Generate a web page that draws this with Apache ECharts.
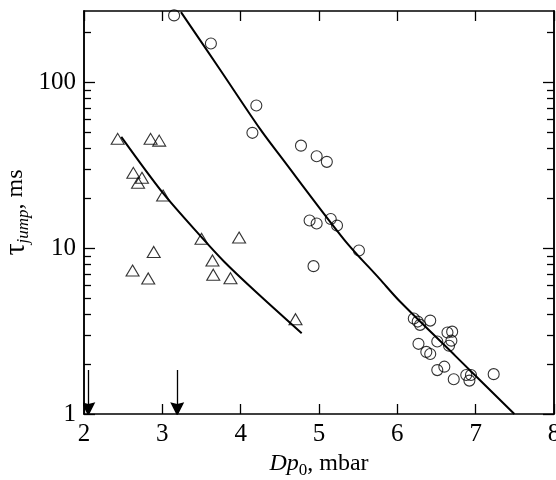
<!DOCTYPE html>
<html><head><meta charset="utf-8">
<script src="https://cdn.jsdelivr.net/npm/echarts@6/dist/echarts.min.js"></script>
<style>html,body{margin:0;padding:0;background:#fff}#c{width:556px;height:480px}</style>
</head><body><div id="c"></div>
<script>
var circlesX = [3.15,3.62,4.20,4.15,4.77,4.97,5.10,4.88,4.97,5.15,5.23,5.51,4.93,6.21,6.26,6.29,6.42,6.64,6.70,6.69,6.66,6.51,6.27,6.37,6.42,6.51,6.60,6.72,6.88,6.94,6.92,7.23];
var circlesY = [254,172,72.6,49.7,41.6,35.9,33.2,14.7,14.1,15.0,13.7,9.7,7.8,3.77,3.61,3.45,3.66,3.10,3.14,2.77,2.58,2.74,2.65,2.37,2.30,1.84,1.93,1.62,1.72,1.72,1.59,1.74];
var trianglesX = [2.43,2.85,2.96,2.63,2.74,2.69,3.01,3.50,2.89,3.64,2.62,2.82,3.65,3.98,3.87,4.70];
var trianglesY = [45.7,45.7,44.6,28.5,26.6,24.8,20.8,11.4,9.5,8.44,7.34,6.57,6.92,11.6,6.6,3.73];
var fitCircX = [3.238,3.74,4.247,4.502,5.323,5.777,6.034,6.75,7.494];
var fitCircY = [266,119,52.5,36.2,11.25,6.51,4.77,2.22,1.0];
var fitTriX = [2.476,3.012,3.497,3.787,4.183,4.779];
var fitTriY = [47.0,21.4,11.7,8.32,5.52,3.07];
var arrowX = [2.055,3.19];
var arrowTop = 1.84, arrowTip = 1.07;
var xTicks = [2,3,4,5,6,7,8];
var yMajor = [1,10,100];
var yMinor = [2,3,4,5,6,7,8,9,20,30,40,50,60,70,80,90,200];

function zip(a,b){return a.map(function(v,i){return [v,b[i]];});}
var FONT = 'Liberation Serif';
var lineStyleAxis = {color:'#000', width:1.5};
function yAx(pos, ticks, len, labels, extra){
  var o = {type:'log', logBase:10, min:1, max:270, position:pos,
    axisLine:{show:true, onZero:false, lineStyle:lineStyleAxis},
    axisTick:{show:true, inside:true, length:len, customValues:ticks, lineStyle:{color:'#000', width:1.3}},
    axisLabel:{show:labels, customValues:yMajor, fontFamily:FONT, fontSize:25, color:'#000', margin:8},
    splitLine:{show:false}, minorTick:{show:false}};
  for (var k in extra) o[k]=extra[k];
  return o;
}
var chart = echarts.init(document.getElementById('c'));
chart.setOption({
  animation:false,
  backgroundColor:'#fff',
  grid:{left:84, right:2, top:11, bottom:66, outerBoundsMode:'none', containLabel:false},
  xAxis:[
    {type:'value', min:2, max:8, interval:1, position:'bottom',
     axisLine:{onZero:false, lineStyle:lineStyleAxis},
     axisTick:{inside:true, length:10, lineStyle:{color:'#000', width:1.3}},
     axisLabel:{fontFamily:FONT, fontSize:25, color:'#000', margin:8},
     splitLine:{show:false},
     name:'{i|Dp}{s|0}{n|, mbar}', nameLocation:'middle', nameGap:32,
     nameTextStyle:{rich:{
       i:{fontFamily:FONT, fontSize:24, fontStyle:'italic', color:'#000', lineHeight:30, verticalAlign:'middle'},
       s:{fontFamily:FONT, fontSize:17, color:'#000', lineHeight:16, verticalAlign:'bottom'},
       n:{fontFamily:FONT, fontSize:24, color:'#000', lineHeight:30, verticalAlign:'middle'}}}},
    {type:'value', min:2, max:8, interval:1, position:'top',
     axisLine:{onZero:false, lineStyle:lineStyleAxis},
     axisTick:{inside:true, length:10, lineStyle:{color:'#000', width:1.3}},
     axisLabel:{show:false}, splitLine:{show:false}}
  ],
  yAxis:[
    yAx('left', yMajor, 11, true, {
      name:'{t|τ}{s|jump}{n|, ms}', nameLocation:'middle', nameGap:52, nameRotate:90, nameMoveOverlap:false,
      nameTextStyle:{rich:{
        t:{fontFamily:FONT, fontSize:30, color:'#000', lineHeight:32, verticalAlign:'middle'},
        s:{fontFamily:FONT, fontSize:17, fontStyle:'italic', color:'#000', lineHeight:16, verticalAlign:'bottom'},
        n:{fontFamily:FONT, fontSize:24, color:'#000', lineHeight:32, verticalAlign:'middle'}}}}),
    yAx('left', yMinor, 7, false, {}),
    yAx('right', yMajor, 11, false, {}),
    yAx('right', yMinor, 7, false, {})
  ],
  series:[
    {type:'line', xAxisIndex:0, yAxisIndex:0, data:zip(fitCircX,fitCircY), showSymbol:false, symbol:'none',
     smooth:0.3, lineStyle:{color:'#000', width:2}, z:3},
    {type:'line', xAxisIndex:0, yAxisIndex:0, data:zip(fitTriX,fitTriY), showSymbol:false, symbol:'none',
     smooth:0.3, lineStyle:{color:'#000', width:2}, z:3},
    {type:'scatter', xAxisIndex:0, yAxisIndex:0, data:zip(circlesX,circlesY), symbol:'circle', symbolSize:11,
     itemStyle:{color:'rgba(0,0,0,0)', borderColor:'#000', borderWidth:1.1}, clip:false, z:4},
    {type:'scatter', xAxisIndex:0, yAxisIndex:0, data:zip(trianglesX,trianglesY), symbol:'triangle', symbolSize:[13,11],
     itemStyle:{color:'rgba(0,0,0,0)', borderColor:'#000', borderWidth:1.1}, clip:false, z:4},
    {type:'lines', coordinateSystem:'cartesian2d', xAxisIndex:0, yAxisIndex:0,
     data: arrowX.map(function(x){return {coords:[[x,arrowTop],[x,arrowTip]]};}),
     symbol:['none','path://M5,0 L10,30 L5,26 L0,30 Z'], symbolSize:[6,14],
     lineStyle:{color:'#000', width:1.3, opacity:1}, itemStyle:{color:'#000'}, z:5}
  ]
});
</script></body></html>
